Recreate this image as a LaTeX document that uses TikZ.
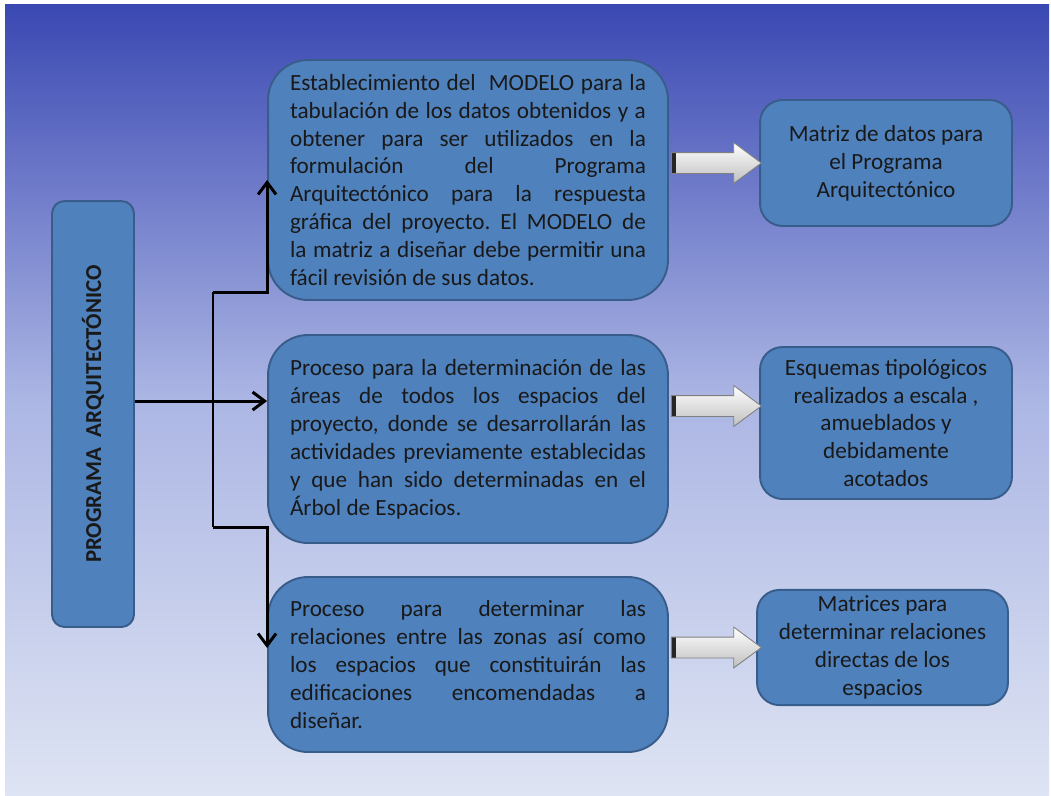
\documentclass[tikz,border=0pt]{standalone}
\usepackage{fontspec}
\setmainfont{Carlito}
\usetikzlibrary{shapes.arrows,arrows.meta,calc}

\definecolor{boxfill}{RGB}{79,129,189}
\definecolor{boxline}{RGB}{56,93,138}
\definecolor{bgtop}{RGB}{58,72,178}
\definecolor{bgmid}{RGB}{172,182,228}
\definecolor{bgbot}{RGB}{222,228,243}

\frenchspacing

\begin{document}
\begin{tikzpicture}[
    x=0.02cm, y=-0.02cm,
    stepbox/.style={
        draw=boxline, line width=1.1pt, fill=boxfill,
        rounded corners=0.8cm, text=black!90,
        font=\fontsize{13.2}{15.9}\selectfont,
        text width=7.12cm, inner xsep=0.44cm, align=justify
    },
    resultbox/.style={
        draw=boxline, line width=1.1pt, fill=boxfill,
        rounded corners=0.45cm, text=black!90,
        font=\fontsize{13.2}{15.9}\selectfont,
        align=center, minimum width=5.04cm
    },
    titlebox/.style={
        draw=boxline, line width=1.1pt, fill=boxfill,
        rounded corners=0.25cm,
        minimum width=1.64cm, minimum height=8.52cm
    },
    blockarrow/.style={
        single arrow, draw=black!50, line width=0.5pt,
        top color=white, bottom color=black!25,
        minimum height=1.8cm,
        single arrow head extend=0.2cm, single arrow tip angle=73,
        inner xsep=0pt, inner ysep=0.2cm, anchor=tail,
        path picture={
            \fill[black!85] (path picture bounding box.north west)
                rectangle ([xshift=0.1cm]path picture bounding box.south west);
        }
    },
    link/.style={line width=1.7pt, -{Straight Barb[length=2.4mm,width=3.6mm]}}
]

\useasboundingbox (0,0) rectangle (1051,795);

% Background
\fill[white] (0,0) rectangle (1051,795);
\shade[top color=bgtop, bottom color=bgbot, middle color=bgmid]
    (5,4) rectangle (1049,795);

% Title box
\node[titlebox] (lb) at (93,414) {};
\node[rotate=90, text=black!90, font=\fontsize{13}{15}\selectfont\bfseries]
    (title) at (lb.center) {PROGRAMA~ ARQUITECTÓNICO};

% Process boxes
\node[stepbox, minimum height=4.8cm] (b1) at (468,180)
    {Establecimiento del~ MODELO para la\linebreak
     tabulación de los datos obtenidos y a\linebreak
     obtener para ser utilizados en la\linebreak
     formulación del Programa\linebreak
     Arquitectónico para la respuesta\linebreak
     gráfica del proyecto. El MODELO de\linebreak
     la matriz a diseñar debe permitir una\linebreak
     fácil revisión de sus datos.};
\node[stepbox, minimum height=4.16cm] (b2) at (468,439)
    {Proceso para la determinación de las\linebreak
     áreas de todos los espacios del\linebreak
     proyecto, donde se desarrollarán las\linebreak
     actividades previamente establecidas\linebreak
     y que han sido determinadas en el\linebreak
     Árbol de Espacios.};
\node[stepbox, minimum height=3.5cm] (b3) at (468,664.5)
    {Proceso para determinar las\linebreak
     relaciones entre las zonas así como\linebreak
     los espacios que constituirán las\linebreak
     edificaciones encomendadas a\linebreak
     diseñar.};

% Result boxes
\node[resultbox, minimum height=2.52cm] (r1) at (886,163)
    {Matriz de datos para\\el Programa\\Arquitectónico};
\node[resultbox, minimum height=3.04cm] (r2) at (886,423)
    {Esquemas tipológicos\\realizados a escala ,\\amueblados y\\debidamente\\acotados};
\node[resultbox, minimum height=2.3cm, minimum width=5.02cm] (r3) at (882.5,647.5)
    {Matrices para\\determinar relaciones\\directas de los\\espacios};

% Block arrows
\node[blockarrow] (a1) at ($(b1.east |- r1.west) + (2,0)$) {};
\node[blockarrow] (a2) at ($(b2.east |- r2.west) + (2,-17)$) {};
\node[blockarrow] (a3) at ($(b3.east |- r3.west) + (2,0)$) {};

% Connectors
\coordinate (split) at ([yshift=0.26cm]lb.east);
\coordinate (forktop) at (213,292);
\coordinate (forkbot) at (213,527);
\draw[link] (split) -- (split -| b2.west);
\draw[link, -] (forktop) -- (forkbot);
\draw[link] (forktop) -- (forktop -| b1.west) -- (b1.west);
\draw[link] (forkbot) -- (forkbot -| b3.west) -- ([yshift=0.33cm]b3.west);

\end{tikzpicture}
\end{document}
